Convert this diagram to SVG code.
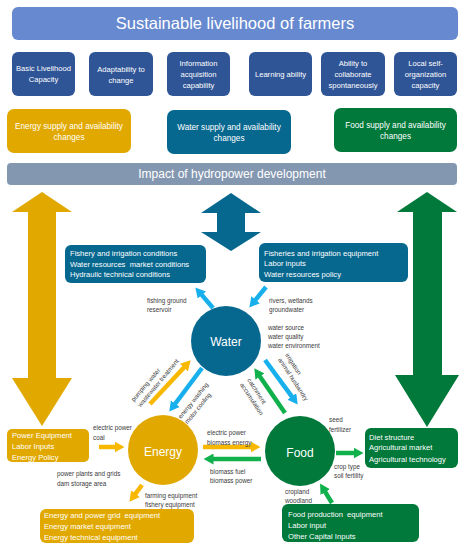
<svg xmlns="http://www.w3.org/2000/svg" width="464" height="550" viewBox="0 0 464 550">
<style>
text{font-family:"Liberation Sans",Arial,sans-serif}
.wt{fill:#fff}
.t16{font-size:16.5px}
.t12{font-size:12px}
.t8{font-size:8.2px}
.t75{font-size:7.6px}
.lb{font-size:6.3px;fill:#3a3a3a}
.c{text-anchor:middle}
.cap{fill:#2f5597}
.yel{fill:#e1a900}
.wat{fill:#07688f}
.grn{fill:#00793a}
.ay{stroke:#f8b800;stroke-width:4.5;fill:none}
.ab{stroke:#17b0ec;stroke-width:4.5;fill:none}
.ag{stroke:#10b04c;stroke-width:4.5;fill:none}
</style>
<defs>
<marker id="hy" viewBox="0 0 10 11" markerUnits="userSpaceOnUse" markerWidth="10" markerHeight="11" refX="0.5" refY="5.5" orient="auto"><path d="M0,0 L10,5.5 L0,11 z" fill="#f8b800"/></marker>
<marker id="hb" viewBox="0 0 10 11" markerUnits="userSpaceOnUse" markerWidth="10" markerHeight="11" refX="0.5" refY="5.5" orient="auto"><path d="M0,0 L10,5.5 L0,11 z" fill="#17b0ec"/></marker>
<marker id="hg" viewBox="0 0 10 11" markerUnits="userSpaceOnUse" markerWidth="10" markerHeight="11" refX="0.5" refY="5.5" orient="auto"><path d="M0,0 L10,5.5 L0,11 z" fill="#10b04c"/></marker>
</defs>
<rect width="464" height="550" fill="#fff"/>

<g id="title">
<rect x="12" y="7" width="446" height="33" rx="6" fill="#6689cf"/>
<text class="wt t16 c" x="235" y="29">Sustainable livelihood of farmers</text>
</g>

<g id="capacities" class="t75">
<g id="cap1"><rect class="cap" x="12" y="52" width="63" height="44" rx="6"/>
<text class="wt c" x="43.5" y="70.5">Basic Livelihood</text><text class="wt c" x="43.5" y="81.5">Capacity</text></g>
<g id="cap2"><rect class="cap" x="89" y="52" width="64" height="44" rx="6"/>
<text class="wt c" x="121" y="71.5">Adaptability to</text><text class="wt c" x="121" y="82.5">change</text></g>
<g id="cap3"><rect class="cap" x="167" y="52" width="63" height="44" rx="6"/>
<text class="wt c" x="198.5" y="65.5">Information</text><text class="wt c" x="198.5" y="76.5">acquisition</text><text class="wt c" x="198.5" y="87.5">capability</text></g>
<g id="cap4"><rect class="cap" x="249" y="52" width="63" height="44" rx="6"/>
<text class="wt c" x="280.5" y="76.5">Learning ability</text></g>
<g id="cap5"><rect class="cap" x="321" y="52" width="64" height="44" rx="6"/>
<text class="wt c" x="353" y="65.5">Ability to</text><text class="wt c" x="353" y="76.5">collaborate</text><text class="wt c" x="353" y="87.5">spontaneously</text></g>
<g id="cap6"><rect class="cap" x="394" y="52" width="63" height="44" rx="6"/>
<text class="wt c" x="425.5" y="65.5">Local self-</text><text class="wt c" x="425.5" y="76.5">organization</text><text class="wt c" x="425.5" y="87.5">capacity</text></g>
</g>

<g id="energy-supply"><rect class="yel" x="7" y="109" width="124" height="44" rx="7"/>
<text class="wt t8 c" x="69" y="129">Energy supply and availability</text><text class="wt t8 c" x="69" y="140">changes</text></g>
<g id="water-supply"><rect class="wat" x="167" y="110" width="124" height="44" rx="7"/>
<text class="wt t8 c" x="229" y="130">Water supply and availability</text><text class="wt t8 c" x="229" y="141">changes</text></g>
<g id="food-supply"><rect class="grn" x="334" y="108" width="123" height="44" rx="7"/>
<text class="wt t8 c" x="395.5" y="128">Food supply and availability</text><text class="wt t8 c" x="395.5" y="139">changes</text></g>

<g id="impact"><rect x="7" y="163" width="450" height="22" rx="4" fill="#8497b0"/>
<text class="wt t12 c" x="232" y="178.3">Impact of hydropower development</text></g>

<g id="big-arrows">
<path class="yel" d="M42,192 L72,212 L56,212 L56,378 L72,378 L42,426 L12,378 L28,378 L28,212 L12,212 Z"/>
<path class="wat" d="M231,193 L261,213 L245,213 L245,232 L261,232 L231,251 L201,232 L217,232 L217,213 L201,213 Z"/>
<path class="grn" d="M427,192 L457,212 L442,212 L442,375 L459,375 L427,427 L395,375 L413,375 L413,212 L397,212 Z"/>
</g>

<g id="water-conditions"><rect class="wat" x="65" y="245" width="141" height="38" rx="6"/>
<text class="wt t75" x="70" y="255.7">Fishery and irrigation conditions</text>
<text class="wt t75" x="70" y="266.5" xml:space="preserve">Water resources  market conditions</text>
<text class="wt t75" x="70" y="277">Hydraulic technical conditions</text></g>
<g id="water-inputs"><rect class="wat" x="259" y="243" width="149" height="39" rx="6"/>
<text class="wt t75" x="264" y="255.5">Fisheries and irrigation equipment</text>
<text class="wt t75" x="264" y="266">Labor inputs</text>
<text class="wt t75" x="264" y="276.5">Water resources policy</text></g>

<g id="water"><circle class="wat" cx="226" cy="341" r="35"/>
<text class="wt t12 c" x="226" y="345.5">Water</text></g>
<g id="energy"><circle class="yel" cx="163" cy="450" r="35"/>
<text class="wt t12 c" x="163" y="456">Energy</text></g>
<g id="food"><circle class="grn" cx="300" cy="451" r="35"/>
<text class="wt t12 c" x="300" y="456.5">Food</text></g>

<g id="energy-inputs"><rect class="yel" x="7" y="429" width="82" height="33" rx="5"/>
<text class="wt t75" x="12" y="437.5">Power Equipment</text>
<text class="wt t75" x="12" y="448.5">Labor Inputs</text>
<text class="wt t75" x="12" y="459.5">Energy Policy</text></g>
<g id="energy-equipment"><rect class="yel" x="40" y="509" width="154" height="34" rx="6"/>
<text class="wt t75" x="44" y="517.7" xml:space="preserve">Energy and power grid  equipment</text>
<text class="wt t75" x="44" y="528.7">Energy market equipment</text>
<text class="wt t75" x="44" y="539.5">Energy technical equipment</text></g>
<g id="food-outputs"><rect class="grn" x="365" y="428" width="93" height="40" rx="6"/>
<text class="wt t75" x="369" y="439.5">Diet structure</text>
<text class="wt t75" x="369" y="450">Agricultural market</text>
<text class="wt t75" x="369" y="461.5">Agricultural technology</text></g>
<g id="food-inputs"><rect class="grn" x="282" y="504" width="137" height="38" rx="6"/>
<text class="wt t75" x="288" y="516.5" xml:space="preserve">Food production  equipment</text>
<text class="wt t75" x="288" y="527.5">Labor input</text>
<text class="wt t75" x="288" y="538.5">Other Capital Inputs</text></g>

<g id="connectors">
<line class="ab" x1="213" y1="308" x2="201.5" y2="294.6" marker-end="url(#hb)"/>
<line class="ab" x1="266" y1="287" x2="255.3" y2="300.2" marker-end="url(#hb)"/>
<line class="ay" x1="150" y1="404" x2="184.2" y2="367.3" marker-end="url(#hy)"/>
<line class="ab" x1="202" y1="368" x2="175" y2="404" marker-end="url(#hb)"/>
<line class="ab" x1="265" y1="360" x2="292.1" y2="396.9" marker-end="url(#hb)"/>
<line class="ag" x1="285" y1="413" x2="259.7" y2="376.2" marker-end="url(#hg)"/>
<line class="ay" x1="203" y1="447" x2="251" y2="447" marker-end="url(#hy)"/>
<line class="ag" x1="261" y1="459" x2="213" y2="459" marker-end="url(#hg)"/>
<line class="ay" x1="99" y1="447" x2="115" y2="447" marker-end="url(#hy)"/>
<line class="ay" x1="142" y1="485" x2="135.2" y2="494.1" marker-end="url(#hy)"/>
<line class="ag" x1="336" y1="453" x2="354" y2="453" marker-end="url(#hg)"/>
<line class="ag" x1="332" y1="503" x2="325" y2="491.6" marker-end="url(#hg)"/>
</g>

<g id="labels" class="lb">
<text x="147" y="303">fishing ground</text><text x="147" y="311.5">reservoir</text>
<text x="269" y="303">rivers, wetlands</text><text x="269" y="312">groundwater</text>
<text x="268" y="329.5">water source</text><text x="268" y="339">water quality</text><text x="268" y="347.5">water environment</text>
<text transform="translate(134,402) rotate(-50)">pumping water<tspan x="0" dy="8.5">wastewater treatment</tspan></text>
<text transform="translate(181,419) rotate(-51)">energy washing<tspan x="0" dy="8.5">motor cooling</tspan></text>
<text transform="translate(285,355) rotate(57)">irrigation<tspan x="0" dy="8.5">animal husbandry</tspan></text>
<text transform="translate(247,380) rotate(57)">catchment<tspan x="0" dy="8.5">accumulation</tspan></text>
<text x="93" y="430">electric power</text><text x="93" y="439.5">coal</text>
<text x="207" y="435">electric power</text><text x="207" y="444.5">biomass energy</text>
<text x="210" y="473.5">biomass fuel</text><text x="210" y="482.5">biomass power</text>
<text x="57" y="476">power plants and grids</text><text x="57" y="485.5">dam storage area</text>
<text x="145" y="498">farming equipment</text><text x="145" y="507">fishery equipment</text>
<text x="329" y="422">seed</text><text x="329" y="431.5">fertilizer</text>
<text x="334" y="469">crop type</text><text x="334" y="478">soil fertility</text>
<text x="285" y="494">cropland</text><text x="285" y="503">woodland</text>
</g>
</svg>
